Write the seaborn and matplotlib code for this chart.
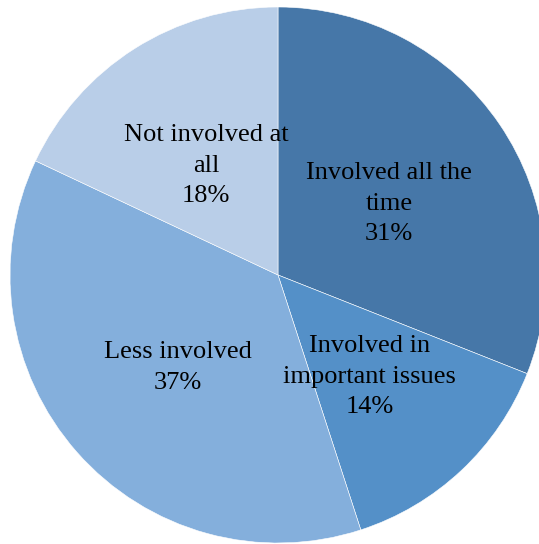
import matplotlib
matplotlib.use("Agg")
import matplotlib.pyplot as plt
import matplotlib.transforms as mtransforms
import seaborn as sns

sns.set_theme(style="white")
plt.rcParams["font.family"] = ["Liberation Serif", "DejaVu Serif"]

categories = ["Involved all the\ntime", "Involved in\nimportant issues",
              "Less involved", "Not involved at\nall"]
shares = [31, 14, 37, 18]
colors = ["#4677a8", "#5490c8", "#84afdc", "#b9cee8"]

fig = plt.figure(figsize=(5.39, 5.44), dpi=100)
ax = fig.add_axes([10 / 539, 1 / 544, 536 / 539, 536 / 544])

labels = [f"{c}\n{v}%" for c, v in zip(categories, shares)]
wedges, texts = ax.pie(
    shares, labels=labels, colors=colors, startangle=90, counterclock=False,
    radius=1, labeldistance=0.5,
    wedgeprops=dict(edgecolor="white", linewidth=0.4),
    textprops=dict(fontsize=19, color="black"),
)
# nudge the labels slightly below the geometric label point
shift = mtransforms.ScaledTranslation(0, -4 / 100, fig.dpi_scale_trans)
for t in texts:
    t.set_ha("center")
    t.set_va("center")
    t.set_multialignment("center")
    t.set_linespacing(1.5)
    t.set_transform(t.get_transform() + shift)

ax.set_xlim(-1, 1)
ax.set_ylim(-1, 1)
ax.set_aspect("equal")
ax.axis("off")
for w in wedges:
    w.set_clip_on(False)

fig.savefig("out.png", dpi=100)
